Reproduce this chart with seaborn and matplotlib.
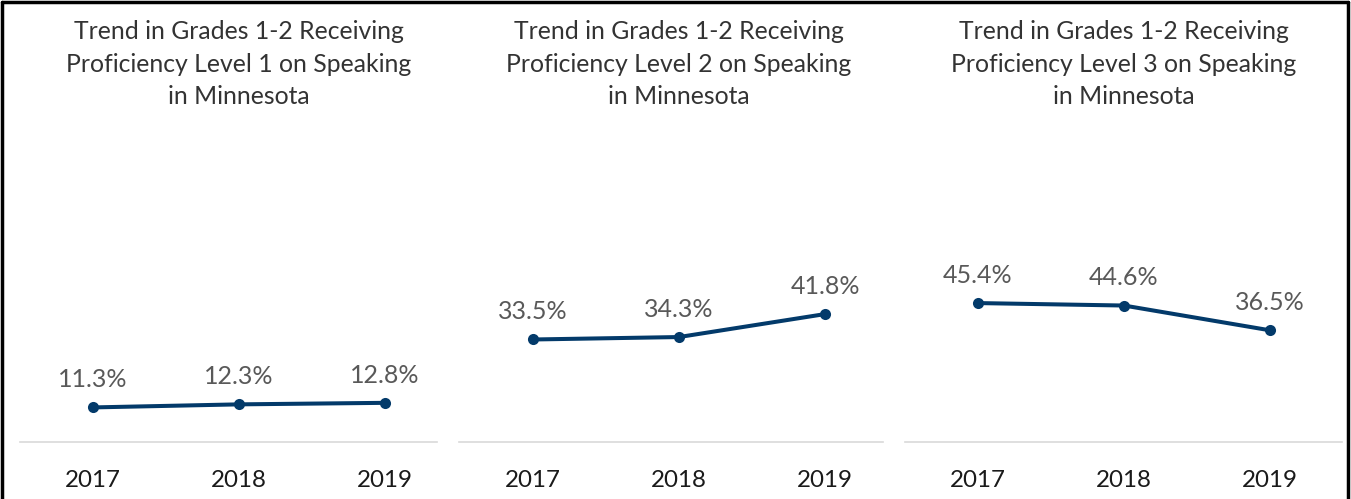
import numpy as np
import pandas as pd
import matplotlib
matplotlib.use("Agg")
import matplotlib.pyplot as plt
import seaborn as sns

# data
years = ["2017", "2018", "2019"]
level1 = [11.3, 12.3, 12.8]
level2 = [33.5, 34.3, 41.8]
level3 = [45.4, 44.6, 36.5]
titles = [
    "Trend in Grades 1-2 Receiving\nProficiency Level 1 on Speaking\nin Minnesota",
    "Trend in Grades 1-2 Receiving\nProficiency Level 2 on Speaking\nin Minnesota",
    "Trend in Grades 1-2 Receiving\nProficiency Level 3 on Speaking\nin Minnesota",
]

sns.set_style("white")
plt.rcParams['font.family'] = ['Lato', 'DejaVu Sans']

W, H = 1351, 499
fig = plt.figure(figsize=(W / 100, H / 100), dpi=100)

line_color = "#033A6A"
# pixel extents of each panel baseline (left, right) and first point x
panels = [(20, 437, 93), (459, 883, 533), (905, 1342, 978)]
step = 146.0
base_y = 442
top_y = 136

for (x0, x1, p0), vals, title in zip(panels, [level1, level2, level3], titles):
    ax = fig.add_axes([x0 / W, (H - base_y) / H, (x1 - x0) / W, (base_y - top_y) / H])
    df = pd.DataFrame({"x": np.arange(len(years)), "value": vals})
    sns.lineplot(data=df, x="x", y="value", ax=ax, color=line_color, linewidth=2.9,
                 marker="o", markersize=8, markeredgewidth=0)
    ax.set_xlim(-(p0 - x0) / step, (x1 - x0 - (p0 - x0)) / step)
    ax.set_ylim(0, 100)
    for i, v in enumerate(vals):
        ax.annotate(f"{v:.1f}%", (i, v), xytext=(0, 20), textcoords="offset points",
                    ha="center", va="center", fontsize=18, color="#595959")
    ax.set_xticks(range(len(years)))
    ax.set_xticklabels(years, fontsize=17.4, color="#1a1a1a")
    ax.tick_params(axis="x", length=0, pad=20)
    ax.set_yticks([])
    ax.set_xlabel("")
    ax.set_ylabel("")
    for s in ["top", "left", "right"]:
        ax.spines[s].set_visible(False)
    ax.spines["bottom"].set_color("#d9d9d9")
    ax.spines["bottom"].set_linewidth(1.2)
    ax.annotate(title, (1, H - 64), xycoords=("data", "figure pixels"),
                ha="center", va="center", fontsize=17.8, color="#333333",
                linespacing=1.5, annotation_clip=False)

# black frame around the image (no bottom edge)
for xs, ys in [([1.5, 1.5], [0, H - 1.5]), ([1.5, W - 3.5], [H - 1.5, H - 1.5]),
               ([W - 3.5, W - 3.5], [0, H - 1.5])]:
    fig.add_artist(plt.Line2D([x / W for x in xs], [y / H for y in ys],
                              color="black", linewidth=2.5))

fig.savefig("out.png", dpi=100)
